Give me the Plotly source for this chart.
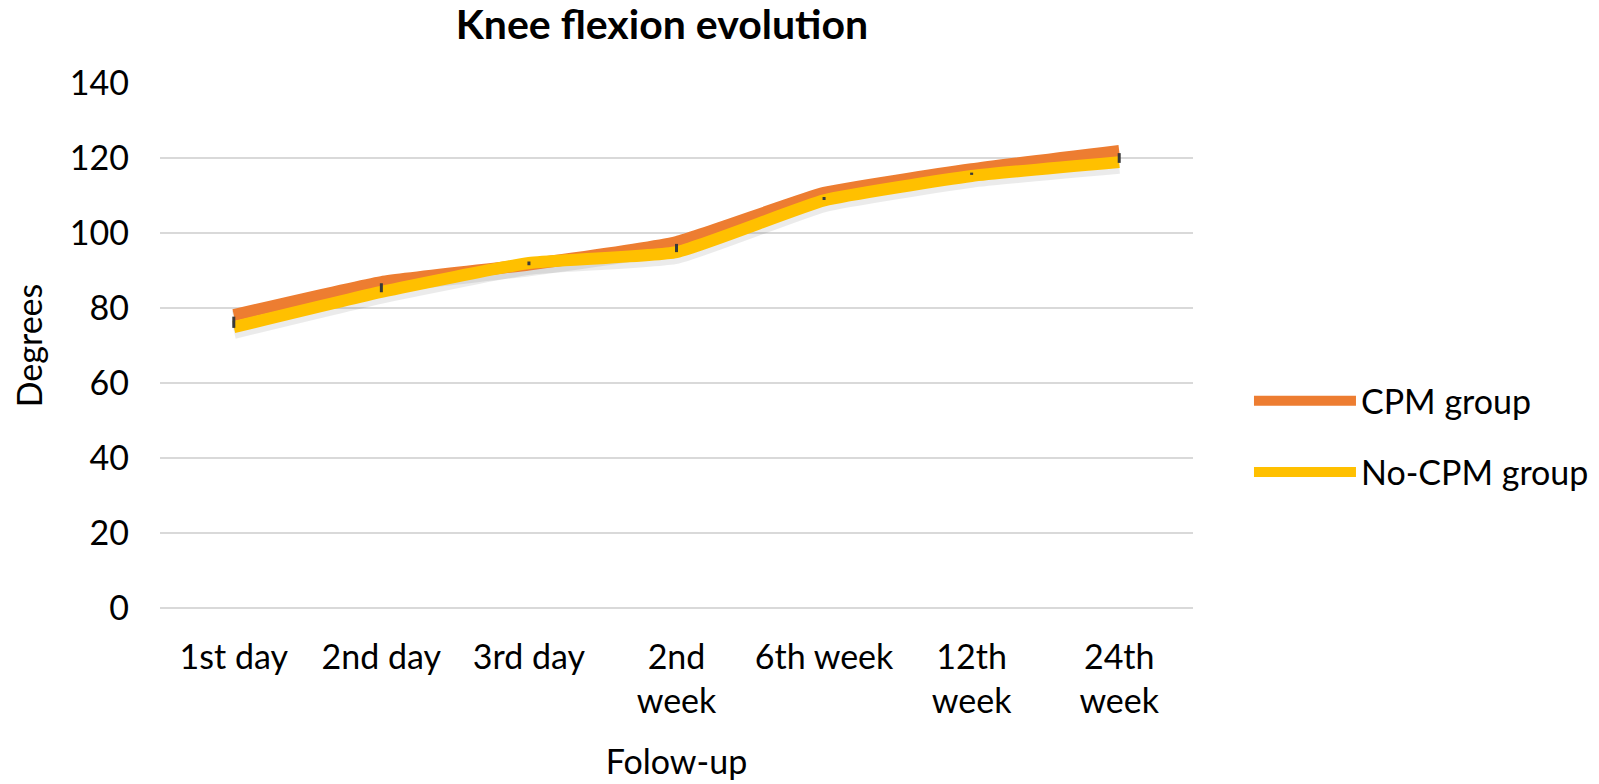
import plotly.graph_objects as go

categories = ["1st day", "2nd day", "3rd day", "2nd<br>week", "6th week", "12th<br>week", "24th<br>week"]
cpm_group = [78.1, 86.9, 91.6, 97.6, 110.7, 117.0, 121.9]
no_cpm_group = [74.9, 84.3, 92.0, 94.9, 108.7, 115.2, 118.9]
err_center = [76.2, 85.4, 91.9, 96.0, 109.2, 115.8, 120.0]
err_half = [1.5, 1.2, 0.5, 1.1, 0.4, 0.3, 1.3]

FONT = "Lato"
FS = 34
fig = go.Figure()

# soft shadow under lines
for vals in (cpm_group, no_cpm_group):
    fig.add_trace(go.Scatter(
        x=categories, y=[v - 1.0 for v in vals], mode="lines",
        line=dict(color="rgba(0,0,0,0.08)", width=16, shape="spline", smoothing=0.4),
        showlegend=False, hoverinfo="skip"))

fig.add_trace(go.Scatter(
    x=categories, y=cpm_group, mode="lines", name="CPM group",
    line=dict(color="#ED7D31", width=12, shape="spline", smoothing=0.4),
    legendgroup="a"))
fig.add_trace(go.Scatter(
    x=categories, y=no_cpm_group, mode="lines", name="No-CPM group",
    line=dict(color="#FFC000", width=12, shape="spline", smoothing=0.4),
    legendgroup="b"))
fig.add_trace(go.Scatter(
    x=categories, y=err_center, mode="markers",
    marker=dict(size=0.1, color="rgba(0,0,0,0)"),
    error_y=dict(type="data", array=err_half, color="#3a3a3a", thickness=3, width=0),
    showlegend=False, hoverinfo="skip"))

fig.update_layout(
    width=1591, height=776,
    margin=dict(l=152, r=406, t=75, b=176),
    paper_bgcolor="white", plot_bgcolor="white",
    font=dict(family=FONT, size=FS, color="#000000"),
    title=dict(text="<b>Knee flexion evolution</b>", x=0.411, xanchor="center",
               y=0.997, yanchor="top", font=dict(size=41, family=FONT)),
    xaxis=dict(type="category", range=[-0.5, 6.5], showgrid=False, showline=False,
               ticks="", tickfont=dict(size=FS), zeroline=False, automargin=False,
               ticklabelstandoff=26,
               title=dict(text="Folow-up", font=dict(size=FS), standoff=30)),
    yaxis=dict(range=[0, 140], dtick=20, showgrid=True, gridcolor="#d9d9d9", gridwidth=2,
               zeroline=True, zerolinecolor="#d9d9d9", zerolinewidth=2, automargin=False,
               showline=False, ticks="", tickfont=dict(size=FS), ticklabelstandoff=30,
               title=dict(text="Degrees", font=dict(size=FS), standoff=41)),
    legend=dict(xref="container", yref="container", x=0.78, y=0.4475,
                xanchor="left", yanchor="middle",
                font=dict(size=FS), tracegroupgap=24, itemwidth=102,
                bgcolor="rgba(0,0,0,0)"),
)

fig.write_html("out.html")
